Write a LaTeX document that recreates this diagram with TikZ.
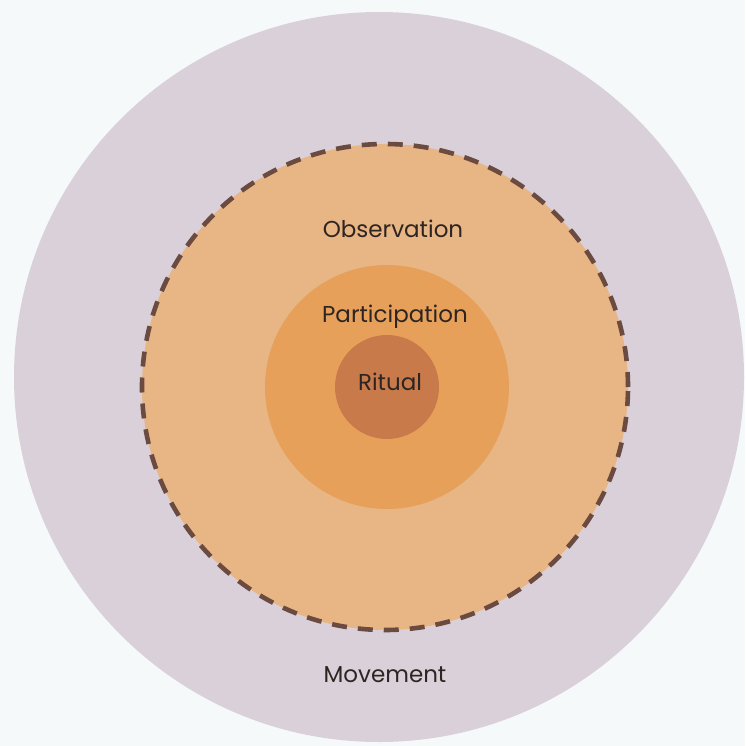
\documentclass[tikz,border=0pt]{standalone}
\usepackage{xcolor}
\usepackage{fontspec}
\setmainfont{Poppins}
\usepackage{tikz}
\usetikzlibrary{positioning}
\definecolor{ringpaper}{HTML}{F5F9F9}
\definecolor{ringgray}{HTML}{D9D0DA}
\definecolor{ringlight}{HTML}{E8B585}
\definecolor{ringmid}{HTML}{E6A05A}
\definecolor{ringdark}{HTML}{C87A4A}
\definecolor{ringdash}{HTML}{6B4A40}
\definecolor{ringtext}{HTML}{2E2522}
\tikzset{
    % Filled disc of one ring
    ringdisc/.style={
        circle,
        fill=#1,
        draw=none,
        inner sep=0pt
    },
    ringdisc/.default=ringgray,
    % Dashed boundary of the observation ring
    ringborder/.style={
        draw=ringdash,
        line width=4.6pt,
        dash pattern=on 15pt off 11pt
    },
    % Ring label, placed on its baseline
    ringlabel/.style={
        font=\fontsize{23}{27}\selectfont,
        text=ringtext,
        anchor=base,
        inner sep=0pt
    }
}
\begin{document}
\begin{tikzpicture}[x=1pt, y=-1pt]

    % Page and clip
    \useasboundingbox[fill=ringpaper] (0,0) rectangle (745,746);
    \clip (0,0) rectangle (745,746);

    % Rings, from outside in
    \node[ringdisc=ringgray, minimum size=730pt] (movement) at (379,377) {};
    \node[ringdisc=ringlight, ringborder, minimum size=486pt] (observation) at (385,387) {};
    \node[ringdisc=ringmid, minimum size=244pt] (participation) at (387,387) {};
    \node[ringdisc=ringdark, minimum size=104pt] (ritual) at (387,387) {};

    % Labels
    \node[ringlabel] (observationlabel) at (393,237) {Observation};
    \node[ringlabel] (participationlabel) at (395,322) {Participation};
    \node[ringlabel] (rituallabel) at (390,390) {Ritual};
    \node[ringlabel] (movementlabel) at (385,682) {Movement};

\end{tikzpicture}
\end{document}
